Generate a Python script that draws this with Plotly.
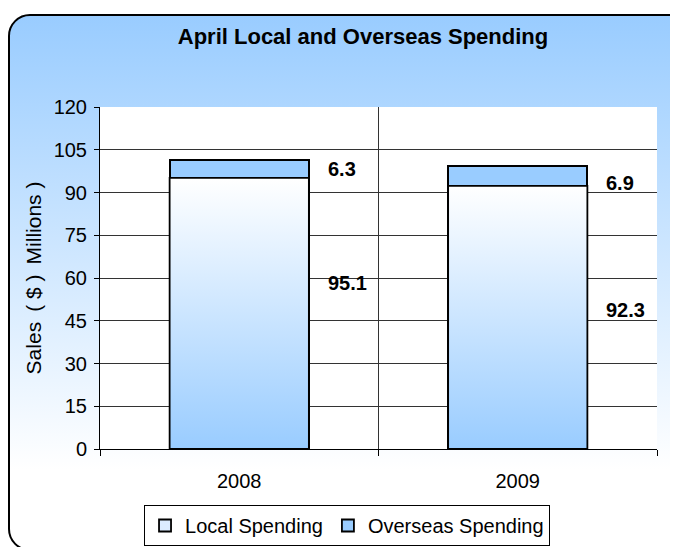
import base64
import plotly.graph_objects as go

# ---- data ----
categories = ["2008", "2009"]
local_spending = [95.1, 92.3]
overseas_spending = [6.3, 6.9]
y_ticks = [0, 15, 30, 45, 60, 75, 90, 105, 120]

# label positions (value-axis units), kept apart from data
local_label_y = [58.2, 48.8]
overseas_label_y = [98.2, 93.3]

W, H = 670, 539
ML, MR, MT, MB = 92, 21, 99, 98
PW, PH = W - ML - MR, H - MT - MB
BAR_W = 0.5
FONT = "Liberation Sans, Arial, sans-serif"

xs = list(range(len(categories)))

fig = go.Figure()

fig.add_trace(go.Bar(
    x=xs, y=local_spending, name="Local Spending", width=BAR_W,
    marker=dict(color="#dcecff", line=dict(color="black", width=1.8)),
))
fig.add_trace(go.Bar(
    x=xs, y=overseas_spending, name="Overseas Spending", width=BAR_W,
    marker=dict(color="#99ccff", line=dict(color="black", width=1.8)),
))

# gradient fill for the local bars
for i, v in zip(xs, local_spending):
    fig.add_trace(go.Scatter(
        x=[i - BAR_W / 2, i + BAR_W / 2, i + BAR_W / 2, i - BAR_W / 2, i - BAR_W / 2],
        y=[0, 0, v, v, 0],
        mode="lines", fill="toself",
        line=dict(color="black", width=1.8),
        fillgradient=dict(type="vertical", colorscale=[[0, "#99ccff"], [1, "#ffffff"]]),
        showlegend=False, hoverinfo="skip",
    ))

fig.update_layout(barmode="stack")

for i in xs:
    fig.add_annotation(x=i + 0.31, y=local_label_y[i], xref="x", yref="y",
                       text=f"{local_spending[i]:.1f}", showarrow=False,
                       xanchor="left", yanchor="middle",
                       font=dict(family=FONT, size=20, color="black", weight="bold"))
    fig.add_annotation(x=i + 0.31, y=overseas_label_y[i], xref="x", yref="y",
                       text=f"{overseas_spending[i]:.1f}", showarrow=False,
                       xanchor="left", yanchor="middle",
                       font=dict(family=FONT, size=20, color="black", weight="bold"))

# background with rounded border and vertical gradient
svg = f'''<svg xmlns="http://www.w3.org/2000/svg" width="{W}" height="{H}" viewBox="0 0 {W} {H}">
<defs><linearGradient id="g" x1="0" y1="0" x2="0" y2="1">
<stop offset="0" stop-color="#99ccff"/><stop offset="0.85" stop-color="#ffffff"/></linearGradient></defs>
<rect x="1" y="7" width="680" height="535" rx="21" ry="21" fill="url(#g)" stroke="black" stroke-width="2"/>
</svg>'''
src = "data:image/svg+xml;base64," + base64.b64encode(svg.encode()).decode()
fig.add_layout_image(dict(
    source=src, xref="paper", yref="paper",
    x=-ML / PW, y=1 + MT / PH, sizex=W / PW, sizey=H / PH,
    xanchor="left", yanchor="top", sizing="stretch", layer="below",
))
# white plot area above the background image
fig.add_shape(type="rect", xref="paper", yref="paper", x0=0, x1=1, y0=0, y1=1,
              fillcolor="white", line=dict(width=0), layer="below")

fig.update_layout(
    width=W, height=H,
    margin=dict(l=ML, r=MR, t=MT, b=MB, autoexpand=False),
    paper_bgcolor="white", plot_bgcolor="white",
    font=dict(family=FONT, size=20, color="black"),
    title=dict(text="<b>April Local and Overseas Spending</b>", x=355 / W,
               xanchor="center", y=1 - 28 / H, yanchor="middle", yref="container",
               font=dict(family=FONT, size=22, color="black")),
    showlegend=True,
    legend=dict(orientation="h", x=0.4435, xanchor="center", y=-0.1637, yanchor="top",
                bgcolor="white", bordercolor="black", borderwidth=1,
                font=dict(family=FONT, size=20), traceorder="normal"),
    xaxis=dict(range=[-0.5, 1.5], tickvals=xs, ticktext=categories, ticks="",
               showgrid=False, zeroline=False, showline=True, linecolor="black", linewidth=1,
               tickfont=dict(size=20), ticklabelstandoff=14,
               minor=dict(tickvals=[-0.5, 0.5, 1.5], ticks="outside", ticklen=6,
                          tickcolor="black", showgrid=True, gridcolor="#333", gridwidth=1)),
    yaxis=dict(range=[0, 120], tickvals=y_ticks, ticks="outside", ticklen=5, tickcolor="black",
               showgrid=False, zeroline=False, showline=True, linecolor="black", linewidth=1,
               tickfont=dict(size=20), ticklabelstandoff=3,
               title=dict(text="Sales \u2009( $ ) \u2009Millions )",
                          font=dict(size=21), standoff=6),
               minor=dict(tickvals=y_ticks[1:-1], ticks="", showgrid=True,
                          gridcolor="#333", gridwidth=1)),
)

fig.write_html("out.html")
